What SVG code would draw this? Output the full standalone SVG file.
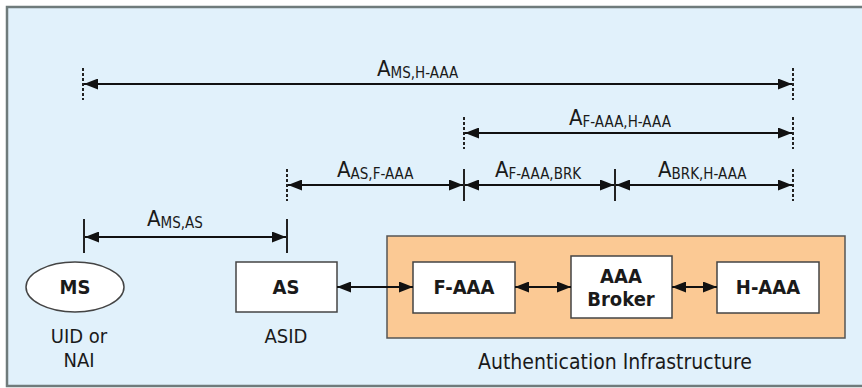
<svg xmlns="http://www.w3.org/2000/svg" width="862" height="388" viewBox="0 0 862 388">
  <defs>
    <marker id="head" viewBox="0 0 14 11" refX="14" refY="5.5" markerWidth="14" markerHeight="11" markerUnits="userSpaceOnUse" orient="auto-start-reverse">
      <path d="M0,0 L14,5.5 L0,11 Z" fill="#111"/>
    </marker>
    <style>
      text { font-family: "DejaVu Sans", Verdana, sans-serif; font-stretch: semi-condensed; fill: #1a1a1a; }
      .lbl { font-size: 22px; }
      .sub { font-size: 15px; }
      .bold { font-size: 20px; font-weight: bold; text-anchor: middle; }
      .cap { font-size: 20px; text-anchor: middle; }
      .dim { stroke: #111; stroke-width: 2; fill: none; marker-start: url(#head); marker-end: url(#head); }
      .tick { stroke: #222; stroke-width: 2; }
      .dash { stroke: #222; stroke-width: 2; stroke-dasharray: 3 2; }
      .box { fill: #ffffff; stroke: #444; stroke-width: 1.5; }
    </style>
  </defs>

  <!-- frame -->
  <rect x="0" y="0" width="862" height="388" fill="#ffffff"/>
  <rect x="7" y="7" width="870" height="379" fill="#e1f1fb" stroke="#6f7b7b" stroke-width="2.5"/>

  <!-- authentication infrastructure area -->
  <g id="auth-infra">
    <rect x="387" y="236" width="458" height="102" fill="#fbc994" stroke="#555" stroke-width="1.5"/>
    <text class="cap" x="615" y="369" style="font-size:21px">Authentication Infrastructure</text>
  </g>

  <g id="ms">
    <ellipse cx="75" cy="287" rx="49" ry="25" class="box"/>
    <text class="bold" x="75" y="294">MS</text>
    <text class="cap" x="79" y="343">UID or</text>
    <text class="cap" x="79" y="367">NAI</text>
  </g>

  <g id="as">
    <rect x="236" y="262" width="101" height="50" class="box"/>
    <text class="bold" x="286" y="294">AS</text>
    <text class="cap" x="286" y="343">ASID</text>
  </g>

  <g id="f-aaa">
    <rect x="413" y="262" width="102" height="51" class="box"/>
    <text class="bold" x="464" y="294">F-AAA</text>
  </g>

  <g id="broker">
    <rect x="571" y="256" width="101" height="62" class="box"/>
    <text class="bold" x="621" y="283">AAA</text>
    <text class="bold" x="621" y="306">Broker</text>
  </g>

  <g id="h-aaa">
    <rect x="717" y="262" width="102" height="51" class="box"/>
    <text class="bold" x="768" y="294">H-AAA</text>
  </g>

  <!-- links between entities -->
  <g id="connectors">
    <line class="dim" x1="337" y1="287" x2="413" y2="287"/>
    <line class="dim" x1="515" y1="287" x2="571" y2="287"/>
    <line class="dim" x1="672" y1="287" x2="717" y2="287"/>
  </g>

  <!-- association spans -->
  <g id="spans">
    <!-- MS to H-AAA -->
    <line class="dash" x1="83" y1="68" x2="83" y2="100"/>
    <line class="dash" x1="793" y1="68" x2="793" y2="100"/>
    <line class="dim" x1="84" y1="84" x2="792" y2="84"/>
    <text class="lbl" x="377" y="76">A<tspan class="sub" dy="2">MS,H-AAA</tspan></text>

    <!-- F-AAA to H-AAA -->
    <line class="dash" x1="464" y1="117" x2="464" y2="149"/>
    <line class="dash" x1="793" y1="117" x2="793" y2="149"/>
    <line class="dim" x1="465" y1="133" x2="792" y2="133"/>
    <text class="lbl" x="569" y="125">A<tspan class="sub" dy="2">F-AAA,H-AAA</tspan></text>

    <!-- AS to F-AAA, F-AAA to broker, broker to H-AAA -->
    <line class="dash" x1="287" y1="169" x2="287" y2="201"/>
    <line class="tick" x1="464" y1="169" x2="464" y2="201"/>
    <line class="tick" x1="615" y1="169" x2="615" y2="201"/>
    <line class="dash" x1="793" y1="169" x2="793" y2="201"/>
    <line class="dim" x1="288" y1="185" x2="463" y2="185"/>
    <line class="dim" x1="465" y1="185" x2="614" y2="185"/>
    <line class="dim" x1="616" y1="185" x2="792" y2="185"/>
    <text class="lbl" x="337" y="177">A<tspan class="sub" dy="2">AS,F-AAA</tspan></text>
    <text class="lbl" x="495" y="177">A<tspan class="sub" dy="2">F-AAA,BRK</tspan></text>
    <text class="lbl" x="658" y="177">A<tspan class="sub" dy="2">BRK,H-AAA</tspan></text>

    <!-- MS to AS -->
    <line class="tick" x1="84" y1="219" x2="84" y2="253"/>
    <line class="tick" x1="287" y1="219" x2="287" y2="253"/>
    <line class="dim" x1="85" y1="237" x2="286" y2="237"/>
    <text class="lbl" x="147" y="226">A<tspan class="sub" dy="2">MS,AS</tspan></text>
  </g>
</svg>
